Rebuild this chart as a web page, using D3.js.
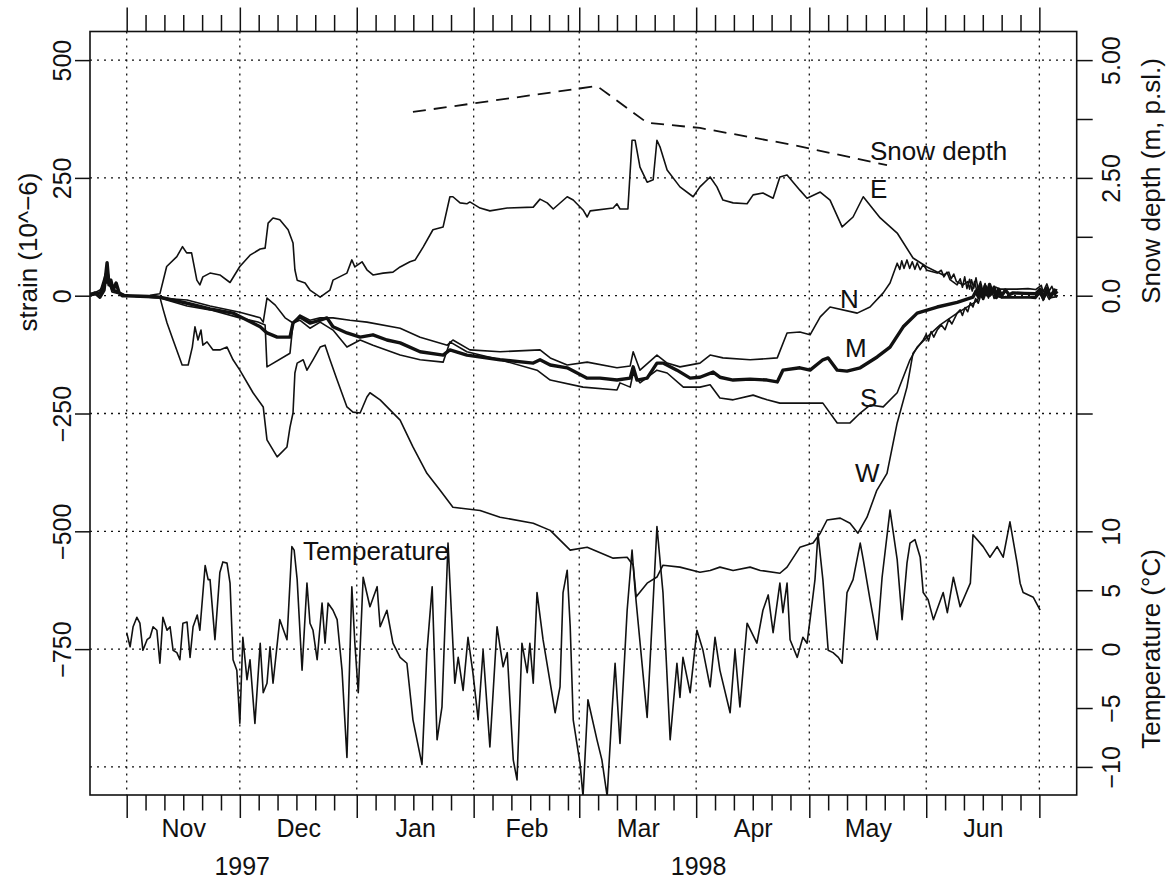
<!DOCTYPE html>
<html><head><meta charset="utf-8">
<script src="https://cdn.jsdelivr.net/npm/d3@7"></script>
<style>
body{margin:0;background:#fff}
svg{display:block}
text{font-family:"Liberation Sans",Arial,Helvetica,sans-serif;fill:#111}
</style>
</head><body>
<svg id="c" width="1171" height="880"></svg>
<script>
// ---------- labels / ticks ----------
const monthLabels = ["Nov","Dec","Jan","Feb","Mar","Apr","May","Jun"];
const yearLabels = ["1997","1998"];
const strainTicks = [500,250,0,-250,-500,-750];
const strainGrid = [500,250,0,-250,-500,-750,-1000];
const snowTicks = [5,3.75,2.5,1.25,0,-2.5];
const snowTickLabels = ["5.00","","2.50","","0.0",""];
const tempTicks = [10,5,0,-5,-10];

// ---------- data: [days since 1997-11-01, value] ----------
const strainE = [[-9.7,1],[-7.1,12],[-5.2,29],[-3.1,8],[0,0],[6.2,1],[8.8,4],[10.6,62],[13.3,83],[14.8,104],[15.9,91],[17.2,91],[18.6,33],[19.4,23],[20.2,40],[22.1,48],[24.7,44],[27.4,28],[30,62],[32.7,86],[35.4,99],[36.7,101],[37.5,154],[38.8,165],[40.6,161],[42.8,140],[44.1,112],[44.6,55],[45.2,33],[47.3,27],[48.6,12],[51.3,-3],[53.9,12],[54.7,33],[58.4,48],[59.7,76],[60.5,61],[62.4,72],[63.7,55],[65.3,44],[68,48],[70.6,50],[72.5,61],[75.1,72],[76.5,76],[78.6,103],[81.2,140],[83.9,146],[85.7,210],[86.5,210],[88.4,197],[90.2,195],[91,199],[93.7,186],[96.3,180],[100.9,186],[107.8,188],[109.6,205],[111.5,197],[113.1,184],[116.8,210],[118.4,203],[121,182],[122.1,167],[122.9,180],[129,186],[130,195],[130.8,184],[132.9,184],[134,330],[134.8,330],[136.1,273],[138,241],[139.6,246],[140.6,330],[141.4,316],[143.3,267],[146.7,231],[150.2,210],[152,231],[154.7,252],[156.5,231],[158.1,203],[160.8,197],[164.5,195],[166.1,214],[168.7,218],[171.4,207],[173.2,252],[175.1,256],[178.5,224],[180.4,207],[183.9,220],[186.5,203],[189.7,146],[192.6,167],[195.3,210],[199.8,165],[204.3,133],[208.5,80],[212.2,61],[216.5,44],[218,50],[218.6,36],[219.3,46],[220,30],[221.8,23],[223,30],[223.5,14],[224,34],[224.6,16],[225.2,38],[225.8,12],[226.4,30],[227,10],[227.6,26],[228.2,8],[229,22],[229.8,10],[230.5,18],[231.5,14],[233,14],[236,14],[239,15],[241,13],[242.5,22],[243,8],[244,25],[244.6,10],[245.3,20],[246,6],[246.7,14]];
const strainN = [[-9.7,5],[-7.1,8],[-5.2,58],[-4.4,29],[-3.1,12],[0,0],[8.8,-5],[16,-9],[22.1,-22],[30,-35],[35.4,-47],[36.2,-56],[37.2,-5],[39.4,-20],[42,-47],[44.1,-58],[45.9,-41],[48.6,-52],[51.3,-47],[54.7,-47],[59.2,-52],[63.7,-56],[72.5,-69],[77.8,-88],[85,-105],[86.5,-94],[91,-115],[99,-119],[109.6,-115],[112.3,-132],[116.8,-147],[122.1,-141],[130,-153],[133.5,-149],[134.3,-119],[136.1,-158],[140.6,-126],[143.3,-143],[146.7,-151],[152,-143],[154.7,-126],[158.1,-132],[165.3,-136],[172.5,-132],[175.1,-79],[178.5,-77],[181.2,-83],[183.9,-45],[186.5,-24],[193.7,-37],[197.1,-24],[200.6,6],[202.4,27],[204.3,69],[205,56],[205.5,74],[206.1,58],[206.9,76],[207.6,58],[208.3,72],[209,56],[209.6,70],[210.4,55],[211.2,66],[212.2,54],[214.9,48],[216,54],[216.7,40],[217.5,50],[218.3,34],[220.2,23],[221,36],[221.6,18],[222.2,40],[222.8,15],[223.5,35],[224.2,10],[224.8,30],[225.5,8],[226.2,26],[227,4],[228,20],[229,2],[230,12],[231,-2],[232,-3],[236,-3],[239,-3],[241,-4],[242.5,10],[243.2,-8],[244,12],[244.8,-6],[245.6,8],[246.7,-2]];
const strainM = [[-9.7,1],[-8.4,6],[-7.1,-3],[-6,12],[-5.2,70],[-4.7,23],[-4.2,33],[-3.6,12],[-2.8,27],[-2,6],[-1.2,0],[0,0],[8.8,-3],[16,-16],[22.1,-28],[28.2,-37],[30,-44],[35.4,-66],[37.2,-79],[39.9,-88],[43.3,-88],[44.1,-58],[45.9,-45],[48.6,-58],[51.3,-52],[53.1,-47],[54.7,-66],[58.4,-79],[61.9,-88],[65.3,-83],[69,-94],[72.5,-100],[77.8,-119],[83.9,-126],[85.7,-115],[90.2,-126],[99,-136],[107.8,-143],[109.6,-136],[112.3,-147],[116.8,-153],[122.1,-175],[125.5,-175],[130,-179],[133.5,-175],[134.3,-151],[135.3,-179],[138,-175],[140.6,-143],[142.2,-143],[145.9,-158],[149.4,-175],[152,-173],[155.5,-162],[157.3,-173],[160.8,-179],[165.3,-177],[169.8,-179],[172.5,-183],[174,-158],[178.5,-153],[181.2,-158],[184.6,-136],[186,-132],[188.4,-158],[191,-160],[194.5,-153],[199,-130],[202.4,-109],[205.9,-66],[209.6,-37],[214.9,-24],[220.2,-14],[224.4,-3],[225.2,10],[225.8,-2],[226.4,16],[227,0],[227.6,20],[228.2,2],[228.8,24],[229.4,4],[230,18],[230.6,-4],[231.2,14],[232,0],[233,12],[234,2],[235,6],[238,5],[241,4],[242.2,14],[243,-4],[244,16],[245,-2],[246,12],[246.7,4]];
const strainS = [[-9.7,0],[-7.1,4],[-5.2,33],[-3.9,12],[0,0],[8.8,-5],[16,-22],[22.1,-30],[30,-47],[34.8,-56],[36.7,-62],[37.2,-151],[43.3,-122],[44.1,-58],[45.9,-52],[48.6,-69],[51.3,-56],[54.7,-73],[58.4,-109],[61.9,-94],[65.3,-105],[72.5,-126],[77.8,-136],[83.9,-141],[85.7,-98],[90.2,-119],[99,-136],[108.8,-158],[112.3,-179],[121,-194],[130,-200],[130.8,-185],[133.5,-194],[134.3,-164],[136.1,-185],[140.6,-158],[143.3,-164],[147.6,-194],[152,-194],[154.7,-189],[157.3,-217],[160.8,-221],[166.1,-211],[169.8,-221],[173.2,-228],[178.5,-228],[184.6,-228],[188.4,-270],[191.8,-270],[194.5,-249],[197.1,-232],[200.6,-236],[204.3,-206],[207.7,-136],[209.6,-109],[212.2,-88],[215.7,-62],[220.2,-37],[225.5,-11],[226.3,4],[227,-8],[227.8,10],[228.5,-5],[229.3,14],[230,-6],[231,6],[232,-4],[233,-2],[236,-3],[239,-3],[241,-2],[242.3,6],[243,-10],[243.8,4],[244.6,-8],[245.4,6],[246.7,-3]];
const strainW = [[-9.7,0],[-7.1,6],[-5.2,44],[-3.9,8],[0,0],[7.5,0],[8.8,-3],[9.7,-30],[10.7,-58],[12.3,-94],[14.7,-147],[16.3,-147],[17.4,-109],[18.1,-66],[18.9,-94],[19.7,-73],[20.2,-105],[21.3,-98],[22.9,-115],[24.7,-115],[26.6,-109],[28.2,-136],[30,-158],[33.5,-206],[36.2,-236],[37.2,-306],[39.9,-342],[42.5,-321],[43.3,-279],[44.1,-249],[44.6,-164],[45.2,-143],[46.8,-136],[47.8,-158],[49.4,-136],[51.3,-109],[52.6,-105],[53.9,-136],[55.8,-179],[58.4,-236],[60,-247],[61.9,-249],[63.7,-215],[64.5,-206],[67.2,-221],[72.5,-264],[75.9,-321],[79.6,-377],[83.1,-413],[86.5,-449],[93.7,-456],[99,-470],[107.8,-483],[112.3,-498],[117.6,-540],[122.1,-534],[129,-557],[132.7,-555],[134.3,-572],[135.1,-639],[138,-610],[140.6,-597],[142.2,-572],[146.7,-576],[152,-587],[154.7,-583],[157.3,-576],[160.8,-583],[165.3,-576],[168,-583],[173.2,-589],[175.1,-576],[178.5,-534],[182,-525],[183.9,-504],[185.7,-476],[189.2,-472],[191.8,-483],[193.9,-504],[196.3,-470],[198.9,-413],[201.6,-377],[204.3,-270],[206.9,-194],[208.5,-122],[211.2,-94],[212,-82],[212.6,-96],[213.3,-76],[214,-88],[214.9,-73],[216,-62],[217,-72],[218,-50],[218.8,-60],[220.2,-37],[221,-30],[221.6,-42],[222.3,-25],[223,-34],[223.7,-15],[224.4,-24],[225.1,-6],[225.8,-16],[226.5,2],[227.2,-8],[228,8],[228.9,-1],[230,10],[231,0],[232,-5],[236,-5],[239,-4],[241,-6],[242,4],[243,-6],[244,6],[245,-4],[246.7,-2]];
const temperature = [[0,1.4],[0.9,0.2],[1.7,1.9],[2.7,2.7],[3.5,2.2],[4.3,-0.1],[5.4,0.8],[6.2,1],[7,1.9],[8,1.6],[8.8,-1.2],[9.6,2.7],[10.7,1.6],[11.5,1.9],[12.3,-0.1],[13.3,-0.3],[14.1,-0.9],[14.9,2.2],[16,2.3],[16.8,-0.7],[17.6,1.9],[18.7,2.9],[19.4,1.6],[20.8,7.1],[21.6,5.9],[22.1,5.9],[23.4,0.8],[24.7,6.5],[25.5,7.4],[26.6,7.3],[27.4,5.6],[28.2,-0.9],[29.2,-1.8],[30,-6.3],[30.8,1],[31.9,-2.6],[32.7,-0.9],[34,-6.3],[35.4,0.5],[36.2,-3.7],[37.2,-2.9],[38,0.2],[38.8,-2.9],[40.6,2.5],[42.5,0.8],[43.8,8.7],[44.4,8.4],[45.2,5.9],[46.5,-1.8],[47.8,5.6],[48.6,2.2],[49.4,1.6],[50.5,-0.9],[51.8,3.9],[52.6,0.5],[53.4,3.9],[54.7,3.3],[55.8,2.5],[57.1,-1.8],[58.4,-9.2],[59.7,5.3],[60.5,0.5],[61.4,-3.7],[62.7,6.1],[64.5,3.6],[66.4,5.3],[67.2,1.9],[69,3.3],[70.6,0.5],[72.5,-0.7],[74.3,-1.2],[75.9,-6],[78.3,-9.8],[79.6,-0.3],[81,5.3],[82.3,-7.7],[83.6,-4.9],[85.2,9],[87,-2.9],[87.9,-0.7],[89.2,-3.5],[90.5,1],[91.8,-2],[93.2,-6],[94.5,-0.1],[96.3,-8.3],[98.2,1.9],[99.8,-1.5],[100.9,-0.3],[102.5,-9.4],[103.5,-11.1],[104.8,0.5],[106.2,-2],[106.9,0.5],[107.8,-2.9],[108.8,4.8],[110.4,0.8],[113.6,-5.4],[114.9,-3.2],[115.7,4.8],[116.8,6.7],[117.6,1.9],[118.4,-6],[120.2,-9.7],[121,-12.5],[122.3,-4.3],[124.7,-7.7],[126,-9.4],[127.4,-12.5],[128.7,-5.2],[129.5,-1.2],[130.8,-8],[132.7,3.3],[134,8.4],[134.8,5],[138,-5.8],[138.8,-0.9],[140.6,10.4],[142.2,4.8],[144.1,-7.7],[145.9,-1.2],[146.7,-4.1],[147.5,-0.7],[149.4,-3.7],[151.2,1.6],[152.8,-0.1],[154.7,-3.2],[156,1],[157.3,-1.8],[160,-5.4],[161.3,-0.1],[162.6,-4.9],[164.5,2.2],[167.1,0.5],[168.7,3.3],[170.1,4.6],[171.4,1.4],[173.2,5.6],[174,3.1],[175.1,5.6],[175.9,0.8],[177.8,-0.7],[179.3,1],[180.4,0.5],[181.2,2.5],[182.5,5.9],[183.3,9.8],[184.6,5.9],[186,-0.1],[187.3,-0.3],[188.7,-0.7],[189.7,-1.2],[191,4.8],[192.6,5.9],[194.5,9],[195.3,7.6],[197.1,4.2],[199,0.8],[200.3,6.1],[202.4,11.8],[204.3,7.6],[205.6,2.5],[206.9,7.3],[207.7,9],[209,9.3],[210.4,7.8],[211.2,4.8],[212.5,4.2],[213.9,2.5],[216.5,4.8],[217.6,3.1],[219.2,6.1],[221,3.6],[223.7,5.6],[224.4,9.7],[227.1,8.7],[228.9,7.8],[230.8,8.7],[232.4,7.8],[234.2,10.8],[236.1,7.3],[236.9,5.6],[237.7,4.8],[240.4,4.4],[242.2,3.3]];
const snowDepth = [[75.9,3.90],[124.7,4.45],[138,3.67],[152,3.56],[176.7,3.20],[201.6,2.77]];

// ---------- layout ----------
const L=90, R=1076.7, T=31.5, B=795;
const t0 = Date.UTC(1997,10,1);
const toDate = d => new Date(t0 + d*864e5);
const x = d3.scaleUtc().domain([toDate(-9.73), toDate(251.9)]).range([L,R]);
const y = d3.scaleLinear().domain([-1059.6,560.7]).range([B,T]);
const ySnow = d3.scaleLinear().domain([-10.596,5.607]).range([B,T]);
const yTemp = d3.scaleLinear().domain([(-1059.6+750)/25,(560.7+750)/25]).range([B,T]);

const svg = d3.select("#c");
const ink = "#111";

const monthStarts = d3.utcMonth.range(new Date(Date.UTC(1997,10,1)), new Date(Date.UTC(1998,6,2)));
const minorTicks = [];
monthStarts.slice(0,-1).forEach(m => [5,10,15,20,25].forEach(k => minorTicks.push(d3.utcDay.offset(m,k))));
const midMonths = monthStarts.slice(0,-1).map((m,i) => new Date((+m + +monthStarts[i+1])/2));
const yearMids = [new Date((Date.UTC(1997,10,1)+Date.UTC(1998,0,1))/2), new Date((Date.UTC(1998,0,1)+Date.UTC(1998,6,1))/2)];

// clip
svg.append("clipPath").attr("id","clip").append("rect").attr("x",L).attr("y",T).attr("width",R-L).attr("height",B-T);

// grid
const grid = svg.append("g").attr("stroke",ink).attr("stroke-width",1.3).attr("stroke-dasharray","2,5");
grid.selectAll("line.h").data(strainGrid).join("line").attr("class","h")
  .attr("x1",L).attr("x2",R).attr("y1",d=>y(d)).attr("y2",d=>y(d));
grid.selectAll("line.v").data(monthStarts).join("line").attr("class","v")
  .attr("y1",T).attr("y2",B).attr("x1",d=>x(d)).attr("x2",d=>x(d));

// lines
const plot = svg.append("g").attr("clip-path","url(#clip)").attr("fill","none").attr("stroke",ink).attr("stroke-linejoin","round");
const lineS = d3.line().x(d=>x(toDate(d[0]))).y(d=>y(d[1]));
const lineT = d3.line().x(d=>x(toDate(d[0]))).y(d=>yTemp(d[1]));
const lineSnow = d3.line().x(d=>x(toDate(d[0]))).y(d=>ySnow(d[1]));
[strainE,strainN,strainS,strainW].forEach(s => plot.append("path").attr("d",lineS(s)).attr("stroke-width",1.6));
plot.append("path").attr("d",lineS(strainM)).attr("stroke-width",3.4);
plot.append("path").attr("d",lineT(temperature)).attr("stroke-width",1.6);
plot.append("path").attr("d",lineSnow(snowDepth)).attr("stroke-width",1.8).attr("stroke-dasharray","13,8");

// axes
function styleAxis(g){ g.select(".domain").remove(); g.selectAll(".tick line").attr("stroke",ink).attr("stroke-width",1.5); g.attr("font-family",null).attr("font-size",null); }
svg.append("g").attr("transform",`translate(0,${T})`).call(d3.axisTop(x).tickValues(monthStarts).tickSize(24).tickFormat("")).call(styleAxis);
svg.append("g").attr("transform",`translate(0,${T})`).call(d3.axisTop(x).tickValues(minorTicks).tickSize(16.5).tickFormat("")).call(styleAxis);
svg.append("g").attr("transform",`translate(0,${B})`).call(d3.axisBottom(x).tickValues(monthStarts).tickSize(23).tickFormat("")).call(styleAxis);
svg.append("g").attr("transform",`translate(0,${B})`).call(d3.axisBottom(x).tickValues(minorTicks).tickSize(15.5).tickFormat("")).call(styleAxis);
const gm = svg.append("g").attr("transform",`translate(0,${B})`).call(d3.axisBottom(x).tickValues(midMonths).tickSize(0).tickFormat((d,i)=>monthLabels[i])).call(styleAxis);
gm.selectAll("text").attr("y",42).attr("dy",0).style("font-size","25px");
const gy = svg.append("g").attr("transform",`translate(0,${B})`).call(d3.axisBottom(x).tickValues(yearMids).tickSize(0).tickFormat((d,i)=>yearLabels[i])).call(styleAxis);
gy.selectAll("text").attr("y",80).attr("dy",0).style("font-size","25px");

const fmt = d => d<0 ? "\u2212"+Math.abs(d) : String(d);
const gl = svg.append("g").attr("transform",`translate(${L},0)`).call(d3.axisLeft(y).tickValues(strainTicks).tickSize(15).tickFormat(fmt)).call(styleAxis);
gl.selectAll("text").attr("transform","rotate(-90)").attr("x",0).attr("y",-19.3).attr("dy",0).attr("text-anchor","middle").style("font-size","25px");
const gs = svg.append("g").attr("transform",`translate(${R},0)`).call(d3.axisRight(ySnow).tickValues(snowTicks).tickSize(16).tickFormat((d,i)=>snowTickLabels[i])).call(styleAxis);
gs.selectAll("text").attr("transform","rotate(-90)").attr("x",0).attr("y",43.3).attr("dy",0).attr("text-anchor","middle").style("font-size","25px");
const gt = svg.append("g").attr("transform",`translate(${R},0)`).call(d3.axisRight(yTemp).tickValues(tempTicks).tickSize(16).tickFormat(fmt)).call(styleAxis);
gt.selectAll("text").attr("transform","rotate(-90)").attr("x",0).attr("y",43.3).attr("dy",0).attr("text-anchor","middle").style("font-size","25px");

// box
svg.append("rect").attr("x",L).attr("y",T).attr("width",R-L).attr("height",B-T).attr("fill","none").attr("stroke",ink).attr("stroke-width",1.6);

// titles
function vtext(xx,yy,s){ svg.append("text").attr("transform",`translate(${xx},${yy}) rotate(-90)`).attr("text-anchor","middle").style("font-size","26px").text(s); }
vtext(37,252,"strain (10^\u22126)");
vtext(1160,181,"Snow depth (m, p.sl.)");
vtext(1160,649,"Temperature (\u00B0C)");

// annotations
const notes = [["Snow depth",870,160],["E",870,198],["N",840,308],["M",845,357],["S",860,407],["W",855,482],["Temperature",303,560]];
svg.selectAll("text.note").data(notes).join("text").attr("class","note").attr("x",d=>d[1]).attr("y",d=>d[2]).style("font-size","26px").text(d=>d[0]);
</script>
</body></html>
